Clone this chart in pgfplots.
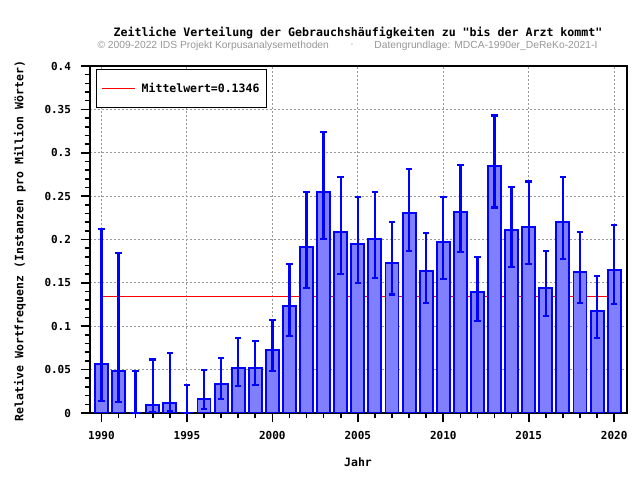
\documentclass[border=0pt]{standalone}
\usepackage{fontspec}
\setmainfont{Liberation Sans}
\setmonofont{DejaVu Sans Mono}
\usepackage{pgfplots}
\usepackage{pgfplotstable}
\pgfplotsset{compat=1.18}
\definecolor{barfill}{RGB}{128,128,255}
\definecolor{subgray}{RGB}{150,150,150}
\pgfplotstableread{
x y lo hi
1990 0.0568 0.0138 0.2125
1991 0.0488 0.0130 0.1848
1992 0.0000 0.0000 0.0484
1993 0.0096 0.0015 0.0615
1994 0.0112 0.0020 0.0695
1995 0.0000 0.0000 0.0326
1996 0.0165 0.0046 0.0496
1997 0.0331 0.0161 0.0638
1998 0.0522 0.0315 0.0868
1999 0.0522 0.0326 0.0833
2000 0.0722 0.0484 0.1076
2001 0.1237 0.0891 0.1721
2002 0.1917 0.1444 0.2551
2003 0.2551 0.2006 0.3236
2004 0.2090 0.1606 0.2724
2005 0.1944 0.1502 0.2493
2006 0.2002 0.1560 0.2551
2007 0.1726 0.1366 0.2202
2008 0.2302 0.1871 0.2813
2009 0.1633 0.1271 0.2075
2010 0.1967 0.1545 0.2493
2011 0.2313 0.1856 0.2862
2012 0.1391 0.1064 0.1802
2013 0.2850 0.2370 0.3430
2014 0.2106 0.1687 0.2609
2015 0.2141 0.1721 0.2667
2016 0.1444 0.1122 0.1867
2017 0.2198 0.1779 0.2721
2018 0.1629 0.1271 0.2090
2019 0.1179 0.0868 0.1583
2020 0.1652 0.1260 0.2167
}\datatable
\begin{document}
\begin{tikzpicture}
\useasboundingbox (0,0) rectangle (640bp,480bp);
\node[font=\ttfamily\bfseries\fontsize{11.6bp}{13bp}\selectfont] at (358bp,447bp) {Zeitliche Verteilung der Gebrauchshäufigkeiten zu "bis der Arzt kommt"};
\node[font=\fontsize{10.3bp}{12bp}\selectfont, text=subgray, anchor=west] at (94bp,434bp) {© 2009-2022 IDS Projekt Korpusanalysemethoden};
\node[font=\fontsize{10.3bp}{12bp}\selectfont, text=subgray] at (352bp,434bp) {·};
\node[font=\fontsize{10.3bp}{12bp}\selectfont, text=subgray, anchor=east] at (601bp,434bp) {Datengrundlage: MDCA-1990er\_DeReKo-2021-I};
\node[font=\ttfamily\bfseries\fontsize{11.5bp}{13bp}\selectfont] at (358bp,18bp) {Jahr};
\node[font=\ttfamily\bfseries\fontsize{11.5bp}{13bp}\selectfont, rotate=90] at (20bp,239bp) {Relative Wortfrequenz (Instanzen pro Million Wörter)};
\begin{axis}[
  at={(90bp,67bp)}, anchor=south west,
  scale only axis, width=537bp, height=347bp,
  xmin=1989.33, xmax=2020.75, ymin=0, ymax=0.4,
  xtick={1990,1995,2000,2005,2010,2015,2020},
  xticklabels={1990,1995,2000,2005,2010,2015,2020},
  ytick={0,0.05,0.1,0.15,0.2,0.25,0.3,0.35,0.4},
  yticklabels={0,0.05,0.1,0.15,0.2,0.25,0.3,0.35,0.4},
  minor x tick num=4, minor y tick num=4,
  xtick pos=bottom, ytick pos=left,
  tick align=outside,
  major tick length=9.5bp, minor tick length=5.5bp,
  every tick/.style={black, line width=1.6bp},
  axis line style={line width=2.2bp},
  grid=major,
  major grid style={gray!80, line width=0.9bp, dash pattern=on 2bp off 2bp},
  ticklabel style={font=\ttfamily\bfseries\fontsize{11bp}{13bp}\selectfont},
  xticklabel style={yshift=-5bp},
  yticklabel style={xshift=-6bp},
  legend style={at={(0.012,0.991)}, anchor=north west, draw=black, line width=1bp,
    inner xsep=5bp, inner ysep=11.5bp,
    font=\ttfamily\bfseries\fontsize{11.5bp}{13bp}\selectfont},
  legend image code/.code={\draw[#1, line width=0.8bp] (0bp,0bp) -- (33bp,0bp);},
  legend cell align=left,
]
\addplot[red, line width=0.7bp, mark=none] coordinates {(1990,0.1346) (2020,0.1346)};
\addlegendentry{\hspace{4bp}Mittelwert=0.1346}
\addplot[ybar, bar width=13bp, fill=barfill, draw=blue, line width=1.9bp, mark=none, forget plot]
  table[x=x, y=y] {\datatable};
% error bars: vertical segments from lo to hi
\addplot[blue, mark=none, forget plot,
  quiver={u=0, v=\thisrow{hi}-\thisrow{lo}, every arrow/.append style={line width=2.3bp}}]
  table[x=x, y=lo] {\datatable};
% caps
\addplot[blue, only marks, mark=-, mark size=3.3bp, mark options={line width=2.3bp, solid}, forget plot]
  table[x=x, y=hi] {\datatable};
\addplot[blue, only marks, mark=-, mark size=3.3bp, mark options={line width=2.3bp, solid}, forget plot]
  table[x=x, y=lo] {\datatable};
\end{axis}
\end{tikzpicture}
\end{document}
